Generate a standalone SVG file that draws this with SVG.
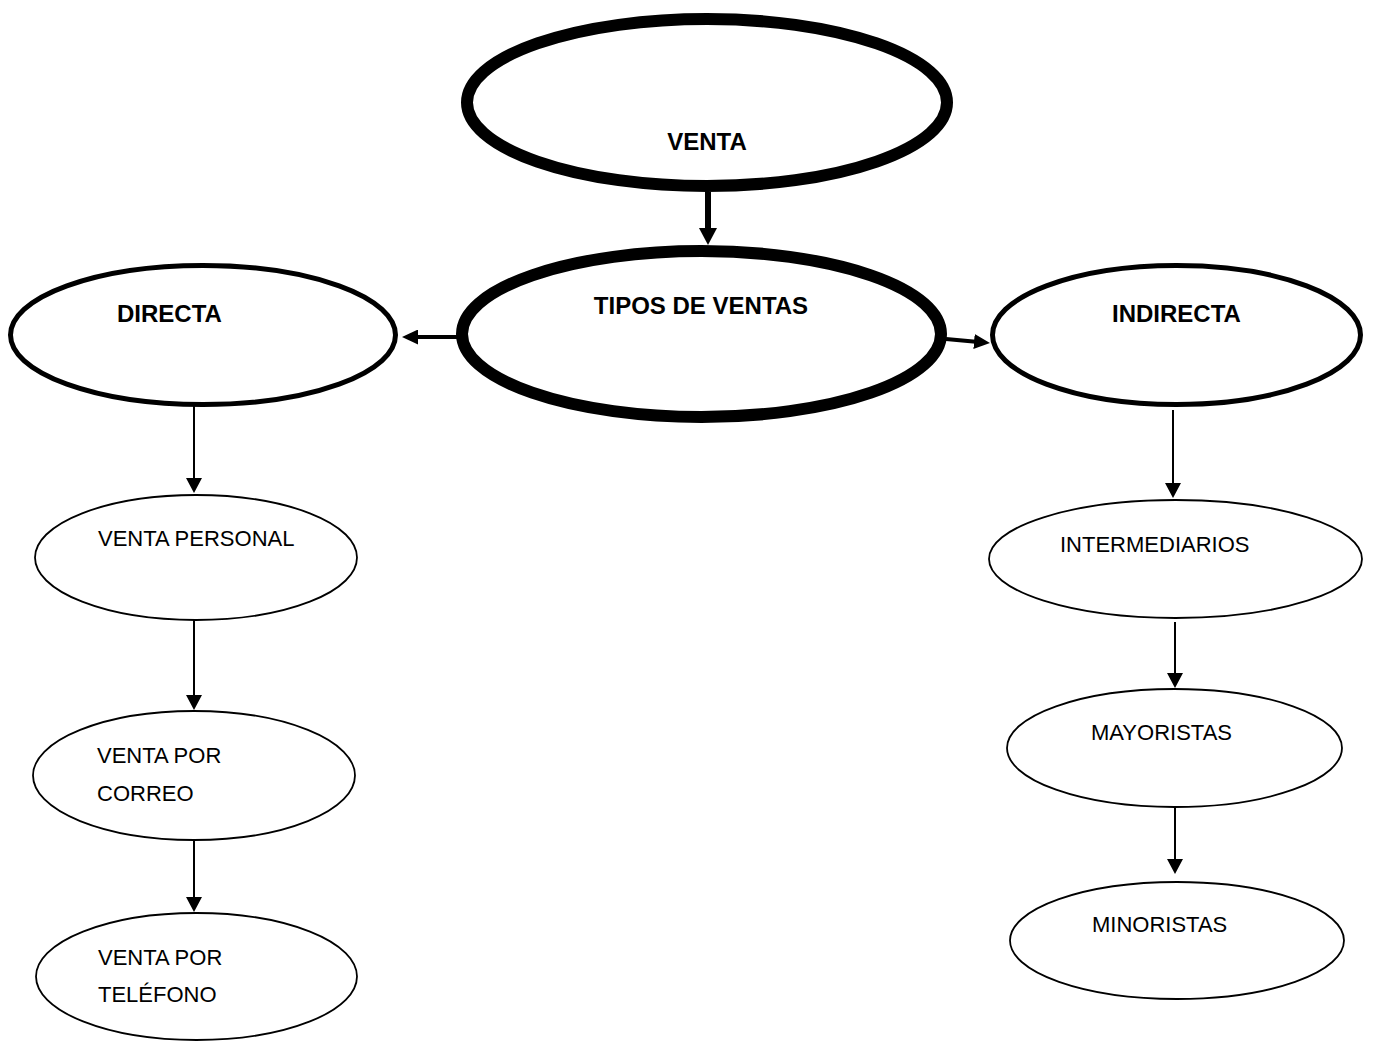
<svg xmlns="http://www.w3.org/2000/svg" width="1374" height="1041" viewBox="0 0 1374 1041">
<style>
  .bg { fill: #ffffff; }
  .node { fill: #ffffff; stroke: #000000; }
  .huge { stroke-width: 12; }
  .bold { stroke-width: 5; }
  .thin { stroke-width: 1.8; }
  .lbl { font-family: "Liberation Sans", Arial, sans-serif; fill: #000000; }
  .b { font-size: 24px; font-weight: bold; }
  .r { font-size: 22px; }
  .edge { stroke: #000000; fill: none; }
</style>
<defs>
  <marker id="ahThin" markerUnits="userSpaceOnUse" viewBox="0 0 15 16" markerWidth="15" markerHeight="16" refX="9" refY="8" orient="auto">
    <path d="M0,0 L15,8 L0,16 z" fill="#000"/>
  </marker>
  <marker id="ahMed" markerUnits="userSpaceOnUse" viewBox="0 0 16 15" markerWidth="16" markerHeight="15" refX="10" refY="7.5" orient="auto">
    <path d="M0,0 L16,7.5 L0,15 z" fill="#000"/>
  </marker>
  <marker id="ahBig" markerUnits="userSpaceOnUse" viewBox="0 0 17 18" markerWidth="17" markerHeight="18" refX="11" refY="9" orient="auto">
    <path d="M0,0 L17,9 L0,18 z" fill="#000"/>
  </marker>
</defs>
<rect class="bg" x="0" y="0" width="1374" height="1041"/>

<g id="connectors">
  <line class="edge" x1="708" y1="192" x2="708" y2="239" stroke-width="6" marker-end="url(#ahBig)"/>
  <line class="edge" x1="457" y1="337" x2="408" y2="337" stroke-width="4" marker-end="url(#ahMed)"/>
  <line class="edge" x1="946" y1="339" x2="984" y2="342.5" stroke-width="4" marker-end="url(#ahMed)"/>
  <line class="edge" x1="194" y1="402" x2="194" y2="487" stroke-width="2" marker-end="url(#ahThin)"/>
  <line class="edge" x1="194" y1="620" x2="194" y2="704" stroke-width="2" marker-end="url(#ahThin)"/>
  <line class="edge" x1="194" y1="840" x2="194" y2="906" stroke-width="2" marker-end="url(#ahThin)"/>
  <line class="edge" x1="1173" y1="410" x2="1173" y2="492" stroke-width="2" marker-end="url(#ahThin)"/>
  <line class="edge" x1="1175" y1="622" x2="1175" y2="682" stroke-width="2" marker-end="url(#ahThin)"/>
  <line class="edge" x1="1175" y1="808" x2="1175" y2="868" stroke-width="2" marker-end="url(#ahThin)"/>
</g>

<g id="venta">
  <ellipse class="node huge" cx="707" cy="102.5" rx="240" ry="83.5"/>
  <text class="lbl b" x="707" y="150" text-anchor="middle">VENTA</text>
</g>
<g id="tipos">
  <ellipse class="node huge" cx="701.5" cy="334" rx="239.5" ry="83"/>
  <text class="lbl b" x="701" y="314" text-anchor="middle">TIPOS DE VENTAS</text>
</g>
<g id="directa">
  <ellipse class="node bold" cx="203" cy="335" rx="192.5" ry="69.5"/>
  <text class="lbl b" x="117" y="322">DIRECTA</text>
</g>
<g id="indirecta">
  <ellipse class="node bold" cx="1176.5" cy="335" rx="184" ry="69.5"/>
  <text class="lbl b" x="1112" y="322">INDIRECTA</text>
</g>
<g id="venta-personal">
  <ellipse class="node thin" cx="196" cy="557.5" rx="161" ry="62.5"/>
  <text class="lbl r" x="98" y="546">VENTA PERSONAL</text>
</g>
<g id="venta-correo">
  <ellipse class="node thin" cx="194" cy="775.5" rx="161" ry="64.5"/>
  <text class="lbl r" x="97" y="763">VENTA POR</text>
  <text class="lbl r" x="97" y="801">CORREO</text>
</g>
<g id="venta-telefono">
  <ellipse class="node thin" cx="196.5" cy="976.5" rx="160.5" ry="63.5"/>
  <text class="lbl r" x="98" y="965">VENTA POR</text>
  <text class="lbl r" x="98" y="1002">TELÉFONO</text>
</g>
<g id="intermediarios">
  <ellipse class="node thin" cx="1175.5" cy="559" rx="186.5" ry="59"/>
  <text class="lbl r" x="1060" y="552">INTERMEDIARIOS</text>
</g>
<g id="mayoristas">
  <ellipse class="node thin" cx="1174.5" cy="748" rx="167.5" ry="59"/>
  <text class="lbl r" x="1091" y="740">MAYORISTAS</text>
</g>
<g id="minoristas">
  <ellipse class="node thin" cx="1177" cy="940.5" rx="167" ry="58.5"/>
  <text class="lbl r" x="1092" y="932">MINORISTAS</text>
</g>
</svg>
